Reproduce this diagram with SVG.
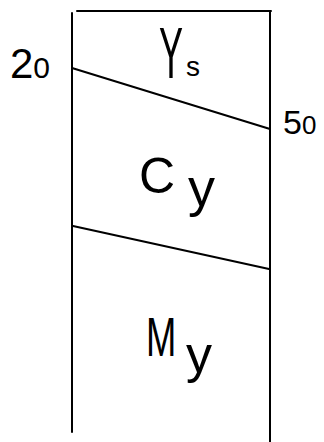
<svg xmlns="http://www.w3.org/2000/svg" width="324" height="442" viewBox="0 0 324 442">
<style>
.ln{stroke:#000;stroke-width:2;fill:none;stroke-linecap:round}
.t{font-family:"Liberation Sans",Arial,sans-serif;fill:#000}
</style>
<rect width="324" height="442" fill="#fff"/>
<g id="frame">
<path class="ln" d="M72,13 L72,432"/>
<path class="ln" d="M270,11 L270,442"/>
<path class="ln" d="M77,11 L271,11"/>
</g>
<g id="dividers">
<path class="ln" d="M72,68 L270,129"/>
<path class="ln" d="M73,226 L269,269"/>
</g>
<g id="labels">
<text class="t" x="10" y="78" font-size="42">2<tspan font-size="30">0</tspan></text>
<text class="t" x="283" y="134" font-size="34">5<tspan font-size="26">0</tspan></text>
<text class="t" transform="translate(159,78) scale(0.5,1)" x="0" y="0" font-size="72">Y</text>
<text class="t" x="186" y="76" font-size="28">s</text>
<text class="t" x="139" y="193" font-size="50">C</text>
<text class="t" x="188" y="206" font-size="54">y</text>
<text class="t" transform="translate(146,356) scale(0.65,1)" x="0" y="0" font-size="56">M</text>
<text class="t" x="186" y="372" font-size="52">y</text>
</g>
</svg>
